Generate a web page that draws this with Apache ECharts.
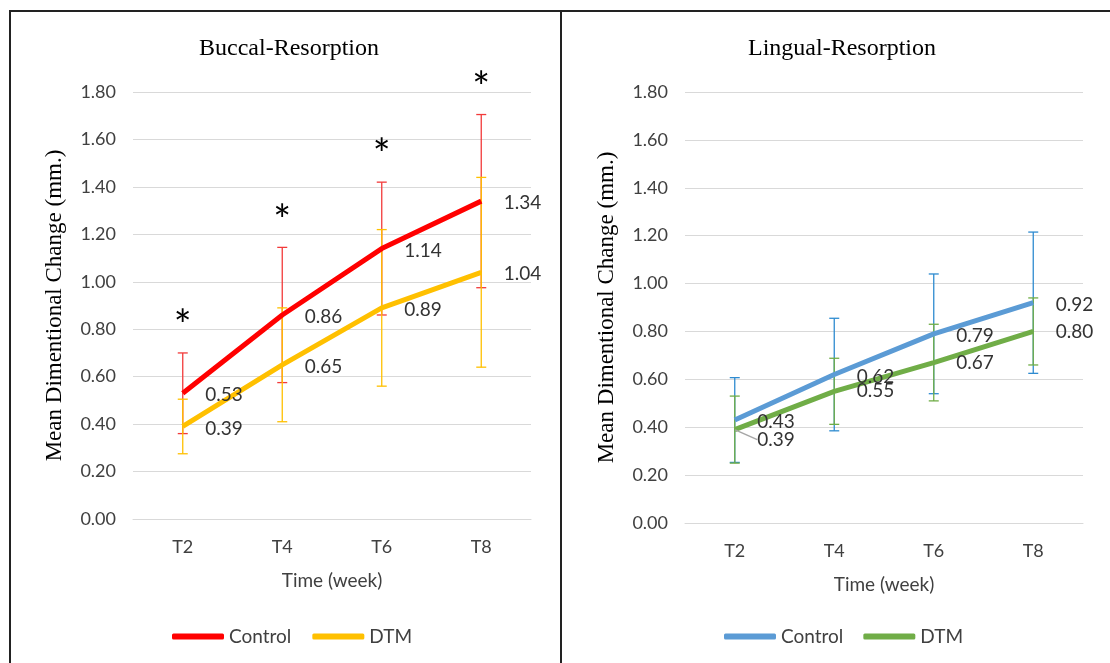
<!DOCTYPE html>
<html>
<head>
<meta charset="utf-8">
<script src="https://cdn.jsdelivr.net/npm/echarts@6/dist/echarts.min.js"></script>
<style>
html,body{margin:0;padding:0;background:#fff;}
#chart{width:1110px;height:663px;}
</style>
</head>
<body>
<div id="chart"></div>
<script>
const categories = ['T2', 'T4', 'T6', 'T8'];
const buccalControl = [0.53, 0.86, 1.14, 1.34];
const buccalControlSD = [0.17, 0.285, 0.28, 0.365];
const buccalDTM = [0.39, 0.65, 0.89, 1.04];
const buccalDTMSD = [0.115, 0.24, 0.33, 0.40];
const lingualControl = [0.43, 0.62, 0.79, 0.92];
const lingualControlSD = [0.177, 0.235, 0.25, 0.295];
const lingualDTM = [0.39, 0.55, 0.67, 0.80];
const lingualDTMSD = [0.14, 0.138, 0.16, 0.14];
const buccalSignificant = [true, true, true, true];

const SANS = 'Lato';
const SERIF = 'Liberation Serif';
const TXT = '#404040';
const STAR_FS = 42;

function errData(mean, sd) {
  return mean.map((m, i) => [i, m - sd[i], m + sd[i]]);
}
function errRender(color) {
  return function (params, api) {
    const x = api.value(0);
    const p1 = api.coord([x, api.value(1)]);
    const p2 = api.coord([x, api.value(2)]);
    const w = 5;
    const st = { stroke: color, lineWidth: 1.3 };
    return {
      type: 'group',
      children: [
        { type: 'line', shape: { x1: p1[0], y1: p1[1], x2: p2[0], y2: p2[1] }, style: st },
        { type: 'line', shape: { x1: p1[0] - w, y1: p1[1], x2: p1[0] + w, y2: p1[1] }, style: st },
        { type: 'line', shape: { x1: p2[0] - w, y1: p2[1], x2: p2[0] + w, y2: p2[1] }, style: st }
      ]
    };
  };
}
function starRender(params, api) {
  const p = api.coord([api.value(0), api.value(1)]);
  return {
    type: 'text',
    x: p[0], y: p[1] + STAR_FS * 0.22,
    style: { text: '*', fill: '#000', font: STAR_FS + 'px ' + SANS, align: 'center', verticalAlign: 'middle' }
  };
}

function xAxisOpt(gi) {
  return {
    type: 'category', gridIndex: gi, data: categories,
    axisLine: { show: true, lineStyle: { color: '#D9D9D9', width: 1 } },
    axisTick: { show: false },
    axisLabel: { color: TXT, fontFamily: SANS, fontSize: 18, margin: 19 },
    name: 'Time (week)', nameLocation: 'middle', nameGap: 52,
    nameTextStyle: { color: TXT, fontFamily: SANS, fontSize: 19 }
  };
}
function yAxisOpt(gi) {
  return {
    type: 'value', gridIndex: gi, min: 0, max: 1.8, interval: 0.2,
    axisLine: { show: false }, axisTick: { show: false },
    splitLine: { lineStyle: { color: '#D9D9D9', width: 1 } },
    axisLabel: { color: TXT, fontFamily: SANS, fontSize: 18, margin: 17, formatter: v => v.toFixed(2) },
    name: 'Mean Dimentional Change (mm.)', nameLocation: 'middle', nameGap: 67, nameRotate: 90,
    nameTextStyle: { color: '#000', fontFamily: SERIF, fontSize: 23 }
  };
}
function lineSeries(name, gi, data, color, extra) {
  return Object.assign({
    name: name, type: 'line', xAxisIndex: gi, yAxisIndex: gi, data: data,
    symbol: 'circle', symbolSize: 1, itemStyle: { color: 'rgba(0,0,0,0)' },
    lineStyle: { color: color, width: 5 }, z: 3,
    label: { show: true, position: 'right', distance: 22, offset: [0, 2], color: '#333', fontFamily: SANS, fontSize: 19,
      formatter: p => Number(p.value).toFixed(2) },
    emphasis: { disabled: true }, animation: false
  }, extra || {});
}
function legendItem(name, color) {
  return { name: name, itemStyle: { color: color, opacity: 1, borderWidth: 0 } };
}

const chart = echarts.init(document.getElementById('chart'), null, { renderer: 'canvas' });
const starData = buccalControl.map((m, i) => buccalSignificant[i] ? [i, m + buccalControlSD[i] + 0.15] : null).filter(Boolean);

chart.setOption({
  animation: false,
  backgroundColor: '#fff',
  title: [
    { text: 'Buccal-Resorption', left: 284, top: 32, textAlign: 'center',
      textStyle: { fontFamily: SERIF, fontSize: 24, fontWeight: 'normal', color: '#000' } },
    { text: 'Lingual-Resorption', left: 837, top: 32, textAlign: 'center',
      textStyle: { fontFamily: SERIF, fontSize: 24, fontWeight: 'normal', color: '#000' } }
  ],
  legend: [
    { data: [legendItem('Control', '#FF0000'), legendItem('DTM', '#FFC000')], left: 167, top: 622,
      icon: 'roundRect', itemWidth: 52, itemHeight: 6, itemGap: 21,
      textStyle: { color: TXT, fontFamily: SANS, fontSize: 19 }, selectedMode: false },
    { data: [legendItem('Control ', '#5B9BD5'), legendItem('DTM ', '#70AD47')], left: 719, top: 622,
      icon: 'roundRect', itemWidth: 52, itemHeight: 6, itemGap: 20,
      formatter: n => n.trim(),
      textStyle: { color: TXT, fontFamily: SANS, fontSize: 19 }, selectedMode: false }
  ],
  grid: [
    { left: 133, top: 92, width: 398, height: 427 },
    { left: 685, top: 92, width: 398, height: 431 }
  ],
  xAxis: [xAxisOpt(0), xAxisOpt(1)],
  yAxis: [yAxisOpt(0), yAxisOpt(1)],
  graphic: [
    { type: 'rect', shape: { x: 10, y: 11, width: 551, height: 700 }, style: { fill: 'none', stroke: '#222', lineWidth: 2 }, z: 100 },
    { type: 'rect', shape: { x: 561, y: 11, width: 600, height: 700 }, style: { fill: 'none', stroke: '#222', lineWidth: 2 }, z: 100 }
  ],
  series: [
    { type: 'custom', xAxisIndex: 0, yAxisIndex: 0, data: errData(buccalControl, buccalControlSD), renderItem: errRender('#F23A3A'), z: 1, silent: true },
    { type: 'custom', xAxisIndex: 0, yAxisIndex: 0, data: errData(buccalDTM, buccalDTMSD), renderItem: errRender('#FFC000'), z: 2, silent: true },
    lineSeries('Control', 0, buccalControl, '#FF0000'),
    lineSeries('DTM', 0, buccalDTM, '#FFC000'),
    { type: 'custom', xAxisIndex: 0, yAxisIndex: 0, data: starData, renderItem: starRender, z: 5, silent: true, clip: false },
    { type: 'custom', xAxisIndex: 1, yAxisIndex: 1, data: errData(lingualControl, lingualControlSD), renderItem: errRender('#2E8BD0'), z: 1, silent: true },
    { type: 'custom', xAxisIndex: 1, yAxisIndex: 1, data: errData(lingualDTM, lingualDTMSD), renderItem: errRender('#70AD47'), z: 2, silent: true },
    lineSeries('Control ', 1, lingualControl, '#5B9BD5'),
    lineSeries('DTM ', 1, lingualDTM.map((v, i) => i === 0 ? { value: v, labelLine: { show: true } } : v), '#70AD47', {
      labelLayout: p => p.dataIndex === 0 ? { dy: 10 } : {},
      labelLine: { show: false, lineStyle: { color: '#A6A6A6', width: 1.5 } }
    })
  ]
});
</script>
</body>
</html>
